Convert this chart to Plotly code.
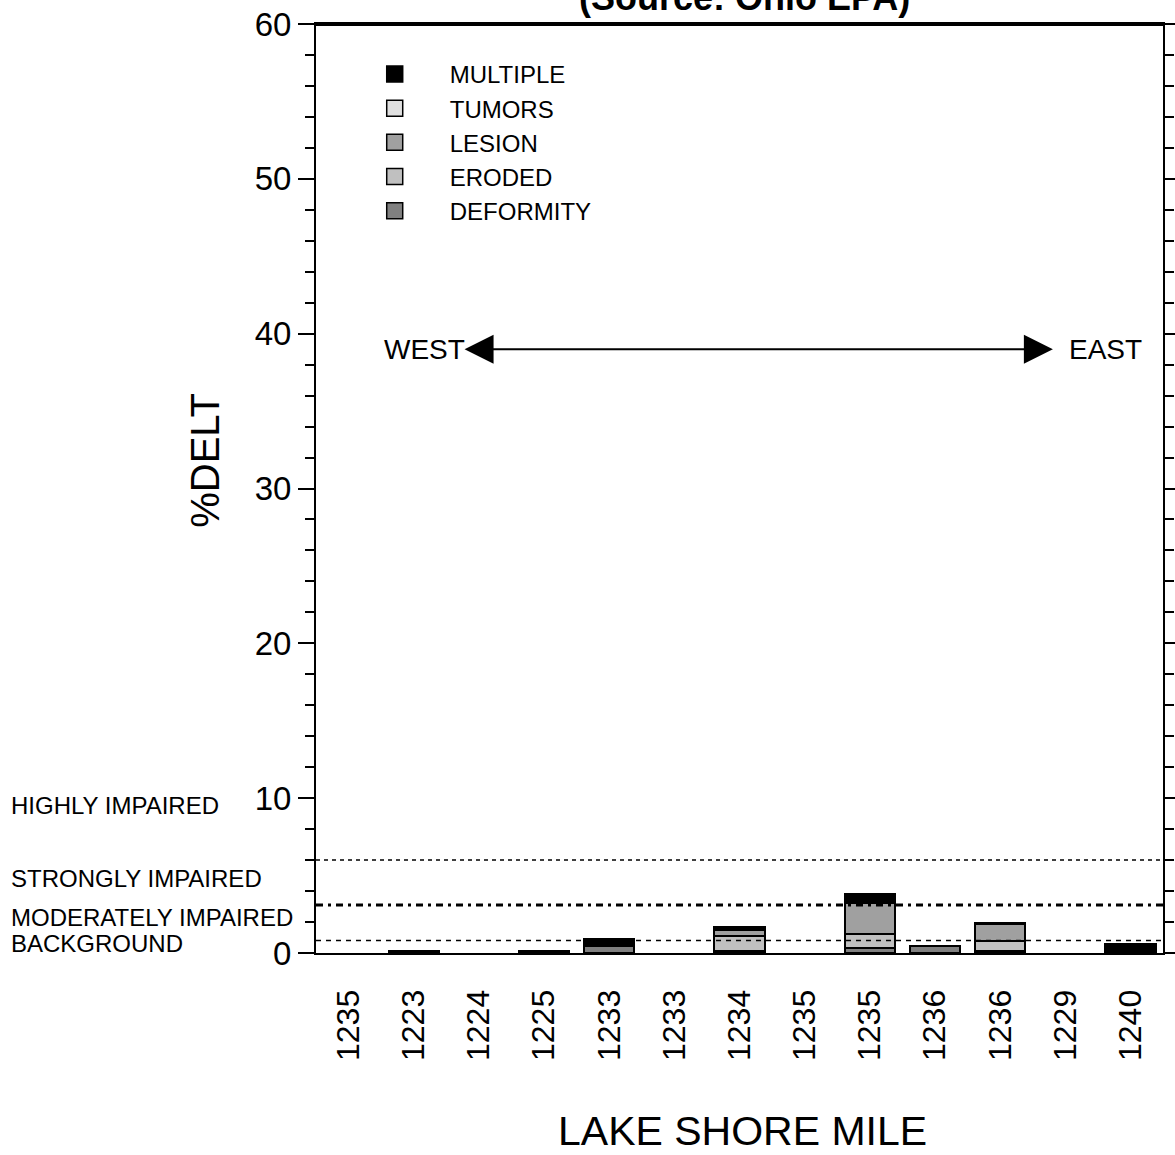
import plotly.graph_objects as go

# lake shore mile labels (west -> east); duplicates are separate sites
sites = ["1235", "1223", "1224", "1225", "1233", "1233", "1234",
         "1235", "1235", "1236", "1236", "1229", "1240"]

# %DELT by anomaly type
deformity = [0, 0.1, 0, 0.1, 0.45, 0, 0.15, 0, 0.35, 0.45, 0.15, 0, 0]
eroded = [0, 0, 0, 0, 0, 0, 0.95, 0, 0.85, 0, 0.65, 0, 0.15]
lesion = [0, 0, 0, 0, 0, 0, 0.4, 0, 2.05, 0, 1.05, 0, 0]
tumors = [0, 0, 0, 0, 0, 0, 0, 0, 0.1, 0, 0, 0, 0]
multiple = [0, 0, 0, 0, 0.45, 0, 0.2, 0, 0.45, 0, 0.12, 0, 0.45]

# impairment thresholds
ref_names = ["BACKGROUND", "MODERATELY IMPAIRED", "STRONGLY IMPAIRED"]
ref_values = [0.8, 3.1, 6.0]
ref_label_y = [0.64, 2.3, 4.8, 9.5]
ref_labels = ["BACKGROUND", "MODERATELY IMPAIRED", "STRONGLY IMPAIRED", "HIGHLY IMPAIRED"]

FONT = "Liberation Sans, Arial, sans-serif"
xpos = list(range(len(sites)))

series = [
    ("DEFORMITY", deformity, "#808080"),
    ("ERODED", eroded, "#c0c0c0"),
    ("LESION", lesion, "#a0a0a0"),
    ("TUMORS", tumors, "#e0e0e0"),
    ("MULTIPLE", multiple, "#000000"),
]

fig = go.Figure()
for name, vals, col in series:
    # empty segments are skipped so no outline is drawn for them
    fig.add_trace(go.Bar(x=xpos, y=[v if v else None for v in vals], name=name, width=0.77,
                         marker=dict(color=col, line=dict(color="black", width=2)),
                         showlegend=False))

# legend proxies (top to bottom as in the original key)
for name, vals, col in reversed(series):
    fig.add_trace(go.Scatter(x=[None], y=[None], mode="markers", name=name,
                             marker=dict(symbol="square", size=16, color=col,
                                         line=dict(color="black", width=1.5))))

# threshold lines
dashes = ["5px,5px", "7px,5px,3px,5px", "4px,4px"]
widths = [1.5, 3, 1.5]
for v, d, w in zip(ref_values, dashes, widths):
    fig.add_shape(type="line", xref="x domain", x0=0, x1=1, yref="y", y0=v, y1=v,
                  line=dict(color="black", width=w, dash=d))

# heavy top frame line
fig.add_shape(type="line", xref="x domain", x0=0, x1=1, yref="y domain", y0=1, y1=1,
              line=dict(color="black", width=4))

for lab, yv in zip(ref_labels, ref_label_y):
    fig.add_annotation(text=lab, xref="paper", x=-0.362, xanchor="left",
                       yref="y", y=yv, yanchor="middle", showarrow=False,
                       font=dict(family=FONT, size=24, color="black"))

# west/east arrow
fig.add_annotation(text="", xref="x domain", x=0.870, yref="y", y=39,
                   axref="x domain", ax=0.1736, ayref="y", ay=39,
                   showarrow=True, arrowside="end+start", arrowhead=2, startarrowhead=2,
                   arrowsize=2.9, startarrowsize=2.9, arrowwidth=2, arrowcolor="black")
fig.add_annotation(text="WEST", xref="x domain", x=0.178, xanchor="right", yref="y", y=39,
                   showarrow=False, font=dict(family=FONT, size=28, color="black"))
fig.add_annotation(text="EAST", xref="x domain", x=0.887, xanchor="left", yref="y", y=39,
                   showarrow=False, font=dict(family=FONT, size=28, color="black"))

# titles
fig.add_annotation(text="<b>(Source: Ohio EPA)</b>", xref="paper", x=0.506, yref="paper",
                   y=1.029, yanchor="middle", showarrow=False,
                   font=dict(family=FONT, size=36, color="black"))
fig.add_annotation(text="LAKE SHORE MILE", xref="paper", x=0.503, yref="paper",
                   y=-0.192, yanchor="middle", showarrow=False,
                   font=dict(family=FONT, size=41, color="black"))
fig.add_annotation(text="%DELT", textangle=-90, xref="paper", x=-0.132, yref="paper",
                   y=0.53, xanchor="center", yanchor="middle", showarrow=False,
                   font=dict(family=FONT, size=40, color="black"))

fig.update_layout(
    width=1175, height=1155,
    margin=dict(l=316, r=12, t=24, b=202),
    barmode="stack",
    plot_bgcolor="white", paper_bgcolor="white",
    font=dict(family=FONT, color="black"),
    legend=dict(x=0.028, y=0.97, xanchor="left", yanchor="top", traceorder="normal",
                font=dict(family=FONT, size=24), itemwidth=100,
                bgcolor="rgba(0,0,0,0)", tracegroupgap=0),
)
fig.update_xaxes(range=[-0.5, len(sites) - 0.5], tickvals=xpos, ticktext=sites,
                 tickangle=-90, tickfont=dict(size=32), ticklabelstandoff=22,
                 showline=True, linecolor="black", linewidth=2, mirror=True,
                 ticks="", showgrid=False, zeroline=False, automargin=False)
fig.update_yaxes(range=[0, 60], dtick=10, tickfont=dict(size=33),
                 ticks="outside", ticklen=16, tickwidth=2, tickcolor="black",
                 minor=dict(dtick=2, ticks="outside", ticklen=9, tickwidth=2, tickcolor="black"),
                 showline=True, linecolor="black", linewidth=2, mirror="ticks",
                 showgrid=False, zeroline=False, automargin=False)

# drop the page's default body margin so the figure sits at the window corner
fig.write_html("out.html", config={"displayModeBar": False},
               post_script="document.body.style.margin='0';")
